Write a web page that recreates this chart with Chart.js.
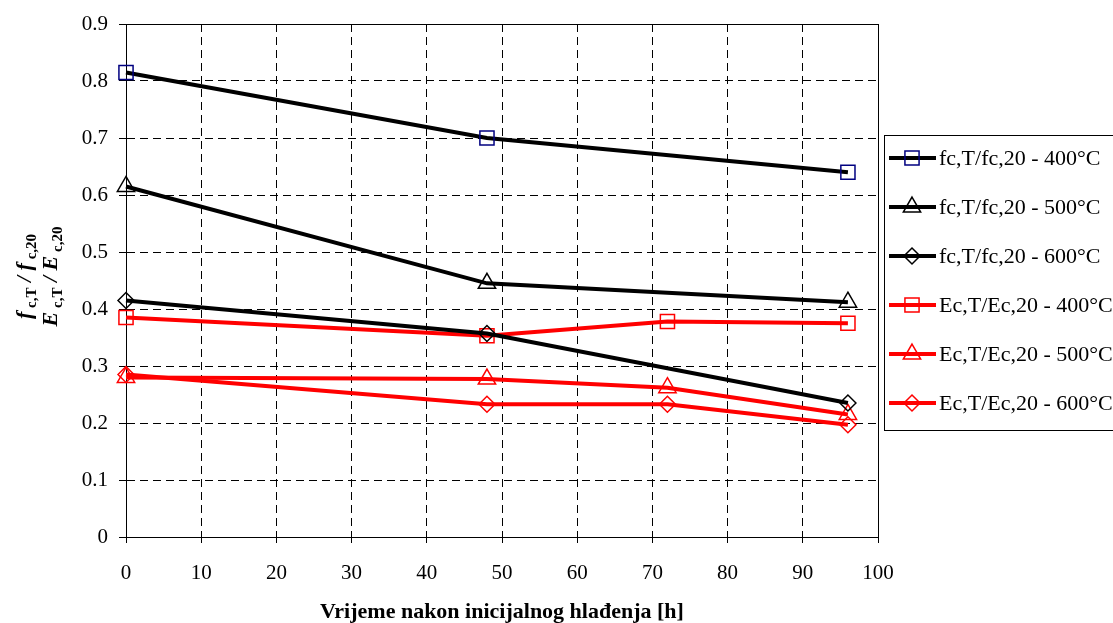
<!DOCTYPE html>
<html lang="hr">
  <head>
    <meta charset="UTF-8" />
    <title>Omjer čvrstoće i modula</title>
    <style>
      body { margin: 0; background: #fff; overflow: hidden; }
    </style>
    <script src="https://cdn.jsdelivr.net/npm/chart.js"></script>
  </head>
  <body>
    <canvas id="myChart" width="1113" height="623"></canvas>
    <script>
      // sati nakon hlađenja
      const hoursFc = [0, 48, 96];
      const hoursEc = [0, 48, 72, 96];

      const fc400 = [0.815, 0.700, 0.640];
      const fc500 = [0.615, 0.445, 0.412];
      const fc600 = [0.415, 0.357, 0.235];
      const ec400 = [0.385, 0.353, 0.378, 0.375];
      const ec500 = [0.280, 0.277, 0.262, 0.215];
      const ec600 = [0.285, 0.233, 0.233, 0.197];

      const labels = [
        "fc,T/fc,20 - 400°C",
        "fc,T/fc,20 - 500°C",
        "fc,T/fc,20 - 600°C",
        "Ec,T/Ec,20 - 400°C",
        "Ec,T/Ec,20 - 500°C",
        "Ec,T/Ec,20 - 600°C",
      ];
      const xTicks = [0, 10, 20, 30, 40, 50, 60, 70, 80, 90, 100];
      const yTicks = [0, 0.1, 0.2, 0.3, 0.4, 0.5, 0.6, 0.7, 0.8, 0.9];

      const serif = "'Liberation Serif', 'Times New Roman', serif";

      function pts(xs, ys) {
        return xs.map((x, i) => ({ x: x, y: ys[i] }));
      }

      function ds(label, xs, ys, color, marker, markerColor, r) {
        return {
          label: label,
          data: pts(xs, ys),
          borderColor: color,
          borderWidth: 4,
          pointStyle: marker,
          pointRadius: r,
          pointHoverRadius: r,
          pointBorderColor: markerColor,
          pointBackgroundColor: "rgba(0,0,0,0)",
          pointBorderWidth: 1.5,
          showLine: true,
          tension: 0,
          clip: false,
        };
      }

      function drawMarker(ctx, style, x, y, r) {
        ctx.beginPath();
        if (style === "rect") {
          const s = Math.SQRT1_2 * r;
          ctx.rect(x - s, y - s, 2 * s, 2 * s);
        } else if (style === "triangle") {
          let a = 0;
          ctx.moveTo(x + Math.sin(a) * r, y - Math.cos(a) * r);
          a += (2 * Math.PI) / 3;
          ctx.lineTo(x + Math.sin(a) * r, y - Math.cos(a) * r);
          a += (2 * Math.PI) / 3;
          ctx.lineTo(x + Math.sin(a) * r, y - Math.cos(a) * r);
          ctx.closePath();
        } else {
          ctx.moveTo(x, y - r);
          ctx.lineTo(x + r, y);
          ctx.lineTo(x, y + r);
          ctx.lineTo(x - r, y);
          ctx.closePath();
        }
        ctx.stroke();
      }

      // okvir, legenda i naslov y osi
      const extras = {
        id: "extras",
        beforeDatasetsDraw(chart) {
          const ctx = chart.ctx;
          const a = chart.chartArea;
          ctx.save();
          ctx.strokeStyle = "#000";
          ctx.lineWidth = 1;
          ctx.setLineDash([]);
          ctx.strokeRect(a.left + 0.5, a.top + 0.5, a.right - a.left, a.bottom - a.top);
          ctx.restore();
        },
        afterDraw(chart) {
          const ctx = chart.ctx;
          const a = chart.chartArea;
          ctx.save();
          ctx.setLineDash([]);

          // legenda
          const lx = a.right + 6;
          const top = a.top + 111;
          const step = 49;
          ctx.strokeStyle = "#000";
          ctx.lineWidth = 1;
          ctx.strokeRect(lx + 0.5, top + 0.5, chart.width, step * chart.data.datasets.length + 1);
          ctx.font = "22px " + serif;
          ctx.textBaseline = "middle";
          ctx.fillStyle = "#000";
          chart.data.datasets.forEach((d, i) => {
            const y = top + 23 + i * step;
            ctx.strokeStyle = d.borderColor;
            ctx.lineWidth = d.borderWidth;
            ctx.beginPath();
            ctx.moveTo(lx + 5, y);
            ctx.lineTo(lx + 52, y);
            ctx.stroke();
            ctx.strokeStyle = d.pointBorderColor;
            ctx.lineWidth = d.pointBorderWidth;
            drawMarker(ctx, d.pointStyle, lx + 28, y, d.pointRadius);
            ctx.fillText(d.label, lx + 55, y + 1);
          });

          // naslov y osi s indeksima
          const cy = (a.top + a.bottom) / 2 - 4;
          const big = "italic bold 22px";
          const sub = "bold 15px";
          const rows = [
            { x: 31, parts: [["f", big, 0], [" c,T", sub, 5], [" / ", big, 0], ["f", big, 0], [" c,20", sub, 5]] },
            { x: 57, parts: [["E", big, 0], [" c,T", sub, 5], [" / ", big, 0], ["E", big, 0], [" c,20", sub, 5]] },
          ];
          ctx.textBaseline = "alphabetic";
          rows.forEach((row) => {
            ctx.save();
            ctx.translate(row.x, cy);
            ctx.rotate(-Math.PI / 2);
            let w = 0;
            row.parts.forEach((p) => {
              ctx.font = p[1] + " " + serif;
              w += ctx.measureText(p[0]).width;
            });
            let x = -w / 2;
            row.parts.forEach((p) => {
              ctx.font = p[1] + " " + serif;
              ctx.fillText(p[0], x, p[2]);
              x += ctx.measureText(p[0]).width;
            });
            ctx.restore();
          });
          ctx.restore();
        },
      };

      new Chart(document.getElementById("myChart"), {
        type: "scatter",
        data: {
          datasets: [
            ds(labels[0], hoursFc, fc400, "#000", "rect", "#000080", 10),
            ds(labels[1], hoursFc, fc500, "#000", "triangle", "#000", 10),
            ds(labels[2], hoursFc, fc600, "#000", "rectRot", "#000", 8),
            ds(labels[3], hoursEc, ec400, "#ff0000", "rect", "#ff0000", 10),
            ds(labels[4], hoursEc, ec500, "#ff0000", "triangle", "#ff0000", 10),
            ds(labels[5], hoursEc, ec600, "#ff0000", "rectRot", "#ff0000", 8),
          ],
        },
        options: {
          responsive: false,
          animation: false,
          layout: { padding: { top: 24, right: 235, bottom: 0, left: 68 } },
          plugins: { legend: { display: false }, tooltip: { enabled: false } },
          scales: {
            x: {
              type: "linear",
              min: xTicks[0],
              max: xTicks[xTicks.length - 1],
              afterBuildTicks: (s) => { s.ticks = xTicks.map((v) => ({ value: v })); },
              afterFit: (s) => { s.height = 86; },
              ticks: { color: "#000", font: { family: serif, size: 21 }, padding: 18, maxRotation: 0 },
              grid: { color: "#000", tickLength: 6, tickBorderDash: [], tickColor: "#000" },
              border: { display: true, color: "#000", width: 1, dash: [8, 5] },
              title: {
                display: true,
                text: "Vrijeme nakon inicijalnog hlađenja [h]",
                color: "#000",
                font: { family: serif, size: 22, weight: "bold", lineHeight: 1.0 },
                padding: { top: 2, bottom: 0 },
              },
            },
            y: {
              min: yTicks[0],
              max: yTicks[yTicks.length - 1],
              afterBuildTicks: (s) => { s.ticks = yTicks.map((v) => ({ value: v })); },
              afterFit: (s) => { s.width = 58; },
              ticks: {
                color: "#000",
                font: { family: serif, size: 21 },
                padding: 11,
                callback: (v) => (v === 0 ? "0" : v.toFixed(1)),
              },
              grid: { color: "#000", tickLength: 7, tickBorderDash: [], tickColor: "#000" },
              border: { display: true, color: "#000", width: 1, dash: [8, 5] },
            },
          },
        },
        plugins: [extras],
      });
    </script>
  </body>
</html>
